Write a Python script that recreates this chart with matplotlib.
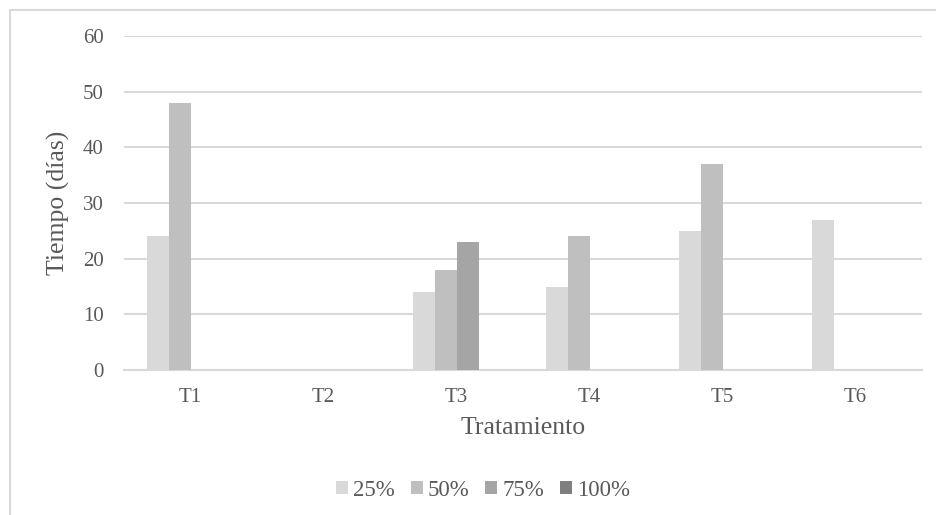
import matplotlib
matplotlib.use("Agg")
import matplotlib.pyplot as plt
import numpy as np
from matplotlib.patches import Rectangle

categories = ["T1", "T2", "T3", "T4", "T5", "T6"]
series_names = ["25%", "50%", "75%", "100%"]
v25 = [24, 0, 14, 15, 25, 27]
v50 = [48, 0, 18, 24, 37, 0]
v75 = [0, 0, 23, 0, 0, 0]
v100 = [0, 0, 0, 0, 0, 0]
yticks = [0, 10, 20, 30, 40, 50, 60]

colors = ["#d9d9d9", "#bfbfbf", "#a5a5a5", "#7f7f7f"]
text_color = "#595959"

plt.rcParams["font.family"] = ["Liberation Serif", "DejaVu Serif"]

fig = plt.figure(figsize=(9.36, 5.15), dpi=100)
W, H = 936, 515
ax = fig.add_axes([124 / W, 1 - 370 / H, (922 - 124) / W, (370 - 36) / H])

# chart frame
fig.patches.append(Rectangle((10 / W, -0.1), 1.2, (H - 10) / H + 0.1,
                             transform=fig.transFigure, fill=False,
                             edgecolor="#d9d9d9", linewidth=1.5))

x = np.arange(len(categories))
bw = 22 / 133
all_vals = [v25, v50, v75, v100]
for i, (vals, c, name) in enumerate(zip(all_vals, colors, series_names)):
    offs = (i - 1.5) * bw
    ax.bar(x + offs, vals, width=bw, color=c, label=name, zorder=3)

ax.set_xlim(-0.5, len(categories) - 0.5)
ax.set_ylim(0, 60)
ax.set_yticks(yticks)
ax.set_xticks(x)
ax.set_xticklabels(categories)
ax.tick_params(axis="both", length=0, labelsize=15, colors=text_color)
ax.tick_params(axis="y", pad=14.5)
ax.tick_params(axis="x", pad=13)
ax.grid(axis="y", color="#d9d9d9", linewidth=1.5, zorder=0)
for s in ["top", "right", "left"]:
    ax.spines[s].set_visible(False)
ax.spines["bottom"].set_color("#d9d9d9")
ax.spines["bottom"].set_linewidth(1.5)

ax.set_xlabel("Tratamiento", fontsize=18.5, color=text_color)
ax.set_ylabel("Tiempo (días)", fontsize=18.5, color=text_color)
ax.xaxis.set_label_coords(0.5, -(428 - 370) / (370 - 36))
ax.yaxis.set_label_coords(-(124 - 58) / (922 - 124), 0.5)
ax.xaxis.label.set_va("center")
ax.yaxis.label.set_va("center")

leg = fig.legend(loc="center", bbox_to_anchor=(483 / W, 1 - 490 / H), ncol=4,
                 frameon=False, fontsize=16.5, handlelength=0.52, handleheight=0.52,
                 handletextpad=0.22, columnspacing=0.7)
for t in leg.get_texts():
    t.set_color(text_color)

fig.savefig("out.png", dpi=100)
